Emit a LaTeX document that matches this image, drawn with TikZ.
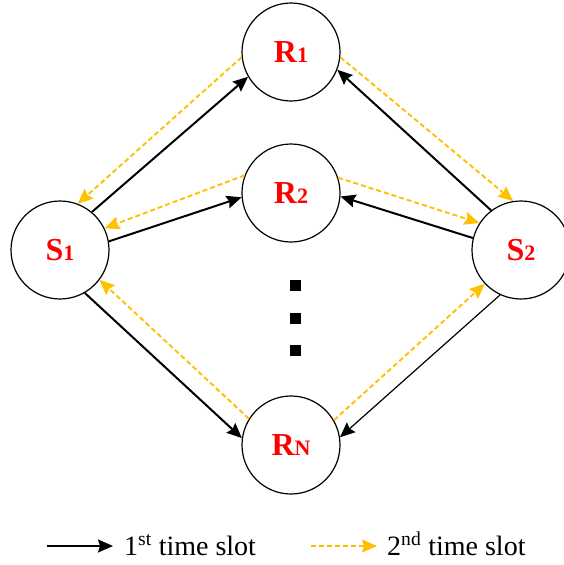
\documentclass[tikz,border=0pt]{standalone}
\usepackage{fontspec}
\setmainfont{Liberation Serif}
\usetikzlibrary{arrows.meta}
\definecolor{slotyellow}{HTML}{FFC000}
\tikzset{
  relay/.style={circle, draw, line width=1.2pt, minimum size=98pt, inner sep=0pt},
  tip/.style={-{Stealth[length=15pt, width=13pt, inset=2pt]}},
  first/.style={line width=2pt, tip},
  firstthin/.style={line width=1.2pt, tip},
  second/.style={line width=1.9pt, slotyellow, dash pattern=on 5pt off 3pt, tip},
  dotsq/.style={fill=black, minimum size=11pt, inner sep=0pt},
}
\newcommand{\nlabel}[2]{\textcolor{red}{\bfseries\fontsize{32}{32}\selectfont #1\fontsize{22}{22}\selectfont #2}}
\begin{document}
\begin{tikzpicture}[x=1pt, y=-1pt]
  \useasboundingbox (0,0) rectangle (564,565);

  % terminals and relays
  \node[relay] (S1) at (60,250)  {\nlabel{S}{1}};
  \node[relay] (S2) at (521,250) {\nlabel{S}{2}};
  \node[relay] (R1) at (291,52)  {\nlabel{R}{1}};
  \node[relay] (R2) at (291,193) {\nlabel{R}{2}};
  \node[relay] (RN) at (291,445) {\nlabel{R}{N}};

  % vertical ellipsis between R2 and RN
  \node[dotsq] (d1) at (295,285) {};
  \node[dotsq] (d2) at (295,318) {};
  \node[dotsq] (d3) at (295,350) {};

  % first time slot: sources transmit to relays
  \draw[first] (S1.50)  -- (R1.210);
  \draw[first] (S1.10)  -- (R2.185);
  \draw[first] (S1.-60) -- (RN.172);
  \draw[first] (S2.127) -- (R1.-21);
  \draw[first] (S2.166) -- (R2.-4);
  \draw[firstthin] (S2.-115) -- (RN.9);

  % second time slot: relays forward to sources
  \draw[second] (R1.186) -- (S1.69);
  \draw[second] (R2.159) -- (S1.26);
  \draw[second] (RN.148) -- (S1.-37);
  \draw[second] (R1.-6)  -- (S2.99);
  \draw[second] (R2.18)  -- (S2.147);
  \draw[second] (RN.30)  -- (S2.-137);

  % legend
  \coordinate (l1a) at (47,546);
  \coordinate (l1b) at (113,546);
  \coordinate (l2a) at (311,546);
  \coordinate (l2b) at (377,546);
  \draw[first] (l1a) -- (l1b);
  \draw[second] (l2a) -- (l2b);
  \node[anchor=base west, inner sep=0pt, font=\fontsize{28}{28}\selectfont] (t1) at (124,555) {1\textsuperscript{st} time slot};
  \node[anchor=base west, inner sep=0pt, font=\fontsize{28}{28}\selectfont] (t2) at (387,555) {2\textsuperscript{nd} time slot};
\end{tikzpicture}
\end{document}
